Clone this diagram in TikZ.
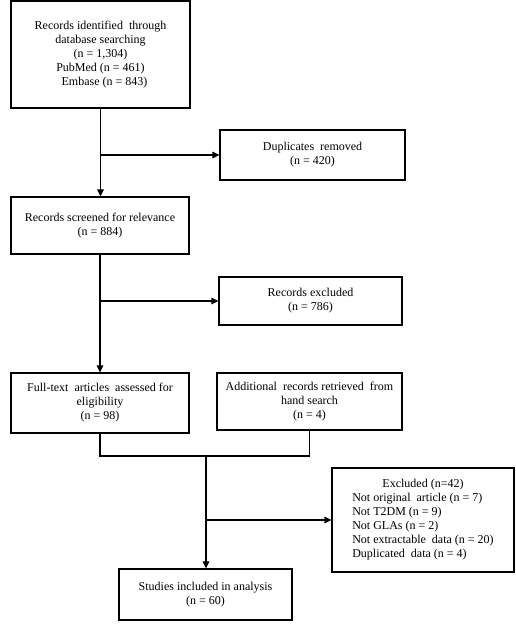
\documentclass[tikz,border=0pt]{standalone}
\usepackage{fontspec}
\setmainfont{Liberation Serif}
\usetikzlibrary{arrows.meta}
\begin{document}
\begin{tikzpicture}[x=1pt,y=-1pt,
  box/.style={draw, line width=1.1pt, rectangle, inner sep=0pt, align=center,
    font=\fontsize{12}{14}\selectfont},
  conn/.style={line width=1.1pt},
  arr/.style={conn, -{Triangle[length=7pt,width=6.5pt]}}]
\useasboundingbox (0,0) rectangle (515,624);
\node[box, minimum width=179pt, minimum height=107pt] (b1) at (100.5,54.5)
  {Records identified\ \ through\\database searching\\(n = 1,304)\\PubMed (n = 461)\\\hspace*{8pt}Embase (n = 843)};
\node[box, minimum width=185pt, minimum height=50pt] (dup) at (312.5,155)
  {Duplicates\ \ removed\\(n = 420)};
\node[box, minimum width=178pt, minimum height=57pt] (b2) at (100,225.5)
  {Records screened for relevance\\(n = 884)};
\node[box, minimum width=183pt, minimum height=48pt] (rex) at (310.5,301)
  {Records excluded\\(n = 786)};
\node[box, minimum width=178pt, minimum height=60pt] (ft) at (100,403)
  {Full-text\ \ articles\ \ assessed for\\eligibility\\(n = 98)};
\node[box, minimum width=185pt, minimum height=57pt] (add) at (309.5,401.5)
  {Additional\ \ records retrieved\ \ from\\hand search\\(n = 4)};
\node[box, minimum width=182pt, minimum height=104pt] (exc) at (423,520)
  {\renewcommand{\arraystretch}{1}\begin{tabular}{@{}l@{}}\multicolumn{1}{@{}c@{}}{Excluded (n=42)}\\
   Not original\ \ article (n = 7)\\
   Not T2DM (n = 9)\\
   Not GLAs (n = 2)\\
   Not extractable\ \ data (n = 20)\\
   Duplicated\ \ data (n = 4)\end{tabular}};
\node[box, minimum width=173pt, minimum height=51pt] (st) at (205.5,594.5)
  {Studies included in analysis\\(n = 60)};
\coordinate (m) at (206,456);
\draw[arr] (b1.south) -- (b1.south |- b2.north);
\coordinate (j1) at (b1.south |- dup.west);
\draw[arr] (j1) -- (dup.west);
\draw[arr] (b2.south) -- (b2.south |- ft.north);
\coordinate (j2) at (b2.south |- rex.west);
\draw[arr] (j2) -- (rex.west);
\draw[conn] (ft.south) -- (ft.south |- m) -- (add.south |- m) -- (add.south);
\draw[arr] (m) -- (m |- st.north);
\coordinate (j3) at (m |- exc.west);
\draw[arr] (j3) -- (exc.west);
\end{tikzpicture}
\end{document}
